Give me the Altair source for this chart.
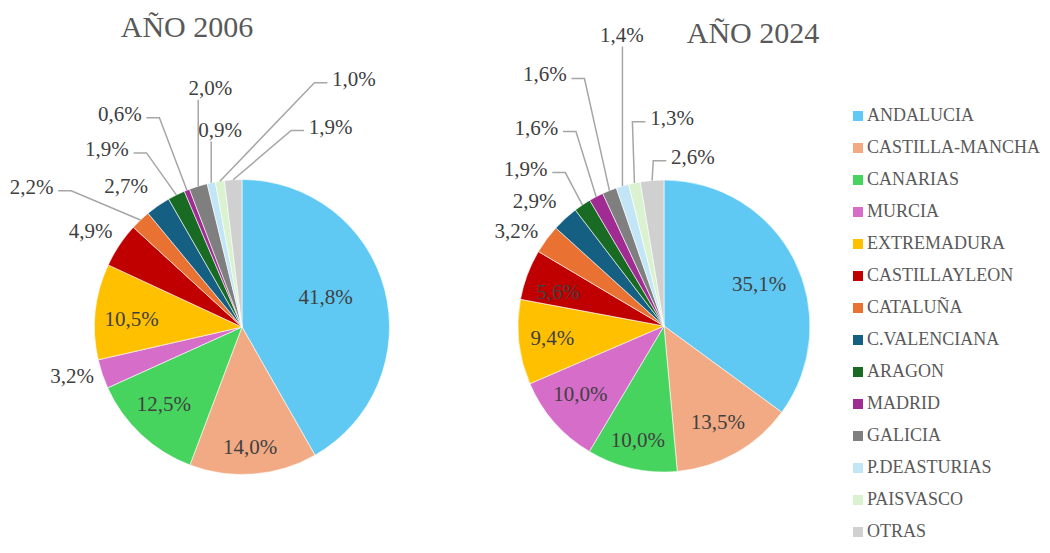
import math
import altair as alt
import pandas as pd

# ---------------- data ----------------
regions = ["ANDALUCIA", "CASTILLA-MANCHA", "CANARIAS", "MURCIA", "EXTREMADURA",
           "CASTILLAYLEON", "CATALUÑA", "C.VALENCIANA", "ARAGON", "MADRID",
           "GALICIA", "P.DEASTURIAS", "PAISVASCO", "OTRAS"]
share_2006 = [41.8, 14.0, 12.5, 3.2, 10.5, 4.9, 2.2, 2.7, 1.9, 0.6, 2.0, 0.9, 1.0, 1.9]
share_2024 = [35.1, 13.5, 10.0, 10.0, 9.4, 5.6, 3.2, 2.9, 1.9, 1.6, 1.6, 1.4, 1.3, 2.6]
years = ["AÑO 2006", "AÑO 2024"]

# ---------------- style ----------------
colors = ["#5FC9F3", "#F2AA84", "#47D45E", "#D66DC9", "#FFC000", "#C00000", "#E97132",
          "#156082", "#196B24", "#A02B93", "#7F7F7F", "#C3E6F6", "#DAF2D0", "#D0D0D0"]
FONT = "Liberation Serif"
PIES = {"AÑO 2006": dict(cx=234, cy=319, r=147.5, tx=179, ty=20),
        "AÑO 2024": dict(cx=656, cy=318, r=146, tx=745, ty=26)}
# label placement: (radius factor, angle shift in degrees, leader line)
LABEL_STYLE = {
    "AÑO 2006": [(0.60, -4.5, False), (0.82, 0.7, False), (0.75, 1.8, False), (1.20, 2.2, False),
                 (0.75, -2.4, False), (1.21, -1.7, False), (1.71, -13, True), (1.23, -5, False),
                 (1.51, -10.9, True), (1.66, -8, True), (1.63, 9.7, True), (1.34, 5.7, True),
                 (1.84, 33, True), (1.48, 27.4, True)],
    "AÑO 2024": [(0.71, 3.6, False), (0.76, 0.4, False), (0.81, 0, False), (0.74, 1.9, False),
                 (0.77, -0.2, False), (0.76, -3.3, False), (1.20, -3.8, False), (1.23, -3.5, False),
                 (1.43, -7.5, True), (1.61, -5.2, True), (1.90, -3.5, True), (2.01, 8.3, True),
                 (1.42, 13.9, True), (1.17, 14.4, True)],
}
LABEL_SIZE = 21

# ---------------- tables built from the data ----------------
slices, labels, leaders = [], [], []
for year, shares in zip(years, [share_2006, share_2024]):
    p = PIES[year]
    total = sum(shares)
    cum = 0.0
    for i, (reg, v) in enumerate(zip(regions, shares)):
        slices.append(dict(year=year, region=reg, value=v, order=i))
        mid = (cum + v / 2) / total * 2 * math.pi
        cum += v
        f, shift, lead = LABEL_STYLE[year][i]
        la = mid + math.radians(shift)
        lx = p["cx"] + f * p["r"] * math.sin(la)
        ly = p["cy"] - f * p["r"] * math.cos(la)
        txt = f"{v:.1f}".replace(".", ",") + "%"
        labels.append(dict(year=year, region=reg, lx=lx, ly=ly, txt=txt))
        if lead:
            ex = p["cx"] + p["r"] * math.sin(mid)
            ey = p["cy"] - p["r"] * math.cos(mid)
            hw = len(txt) * 5.4
            if lx + hw + 2 < ex:
                end = (lx + hw + 5, ly + 3)
                elbow = (end[0] + 13, end[1])
            elif lx - hw - 2 > ex:
                end = (lx - hw - 5, ly + 3)
                elbow = (end[0] - 13, end[1])
            else:
                end = (ex, ly + 11)
                elbow = end
            key = f"{year}-{reg}"
            for k, (px, py) in enumerate([end, elbow, (ex, ey)]):
                leaders.append(dict(key=key, pt=k, px=px, py=py))

slices = pd.DataFrame(slices)
labels = pd.DataFrame(labels)
leaders = pd.DataFrame(leaders)

color = alt.Color(
    "region:N",
    scale=alt.Scale(domain=regions, range=colors),
    legend=alt.Legend(orient="none", legendX=841, legendY=99, title=None,
                      symbolType="square", symbolSize=100, symbolStrokeWidth=0,
                      labelFont=FONT, labelFontSize=18, labelColor="#595959",
                      rowPadding=14, labelOffset=0, labelLimit=300),
)

layers = []
for year in years:
    p = PIES[year]
    arc = alt.Chart(slices).transform_filter(alt.datum.year == year).mark_arc(
        radius=p["r"], stroke="white", strokeWidth=0.6
    ).encode(
        theta=alt.Theta("value:Q", stack=True),
        order=alt.Order("order:Q"),
        color=color,
        x=alt.value(p["cx"]),
        y=alt.value(p["cy"]),
    )
    title = alt.Chart(pd.DataFrame({"t": [year]})).mark_text(
        font=FONT, fontSize=30, color="#595959", align="center", baseline="middle"
    ).encode(text="t:N", x=alt.value(p["tx"]), y=alt.value(p["ty"]))
    layers += [arc, title]

lead = alt.Chart(leaders).mark_line(color="#A6A6A6", strokeWidth=1.5).encode(
    x=alt.X("px:Q", scale=None),
    y=alt.Y("py:Q", scale=None),
    detail="key:N",
    order="pt:Q",
)
txt = alt.Chart(labels).mark_text(
    font=FONT, fontSize=LABEL_SIZE, color="#404040", align="center", baseline="middle"
).encode(
    x=alt.X("lx:Q", scale=None),
    y=alt.Y("ly:Q", scale=None),
    text="txt:N",
)

chart = alt.layer(*layers, lead, txt).resolve_scale(theta="independent").properties(
    width=1034, height=537, autosize="none", padding=0
).configure_view(stroke=None)

chart.save("out.html", embed_options={"renderer": "svg", "actions": False})
